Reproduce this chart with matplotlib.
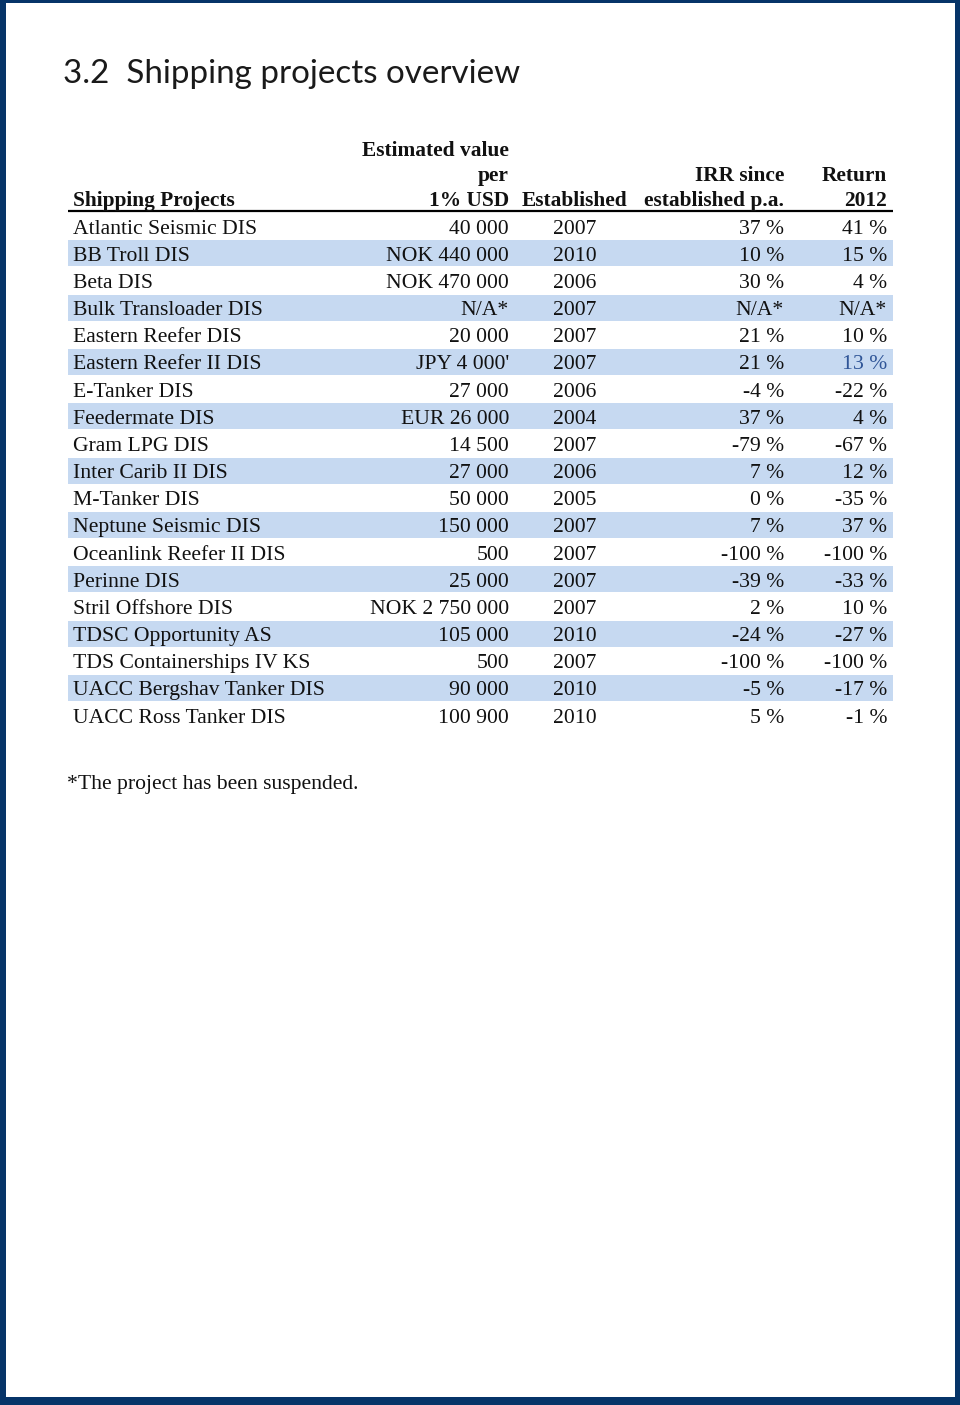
import matplotlib
matplotlib.use("Agg")
import matplotlib.pyplot as plt
from matplotlib.patches import Rectangle

# ---- data ----
projects = ["Atlantic Seismic DIS", "BB Troll DIS", "Beta DIS", "Bulk Transloader DIS",
            "Eastern Reefer DIS", "Eastern Reefer II DIS", "E-Tanker DIS", "Feedermate DIS",
            "Gram LPG DIS", "Inter Carib II DIS", "M-Tanker DIS", "Neptune Seismic DIS",
            "Oceanlink Reefer II DIS", "Perinne DIS", "Stril Offshore DIS",
            "TDSC Opportunity AS", "TDS Containerships IV KS", "UACC Bergshav Tanker DIS",
            "UACC Ross Tanker DIS"]
est_value = ["40 000", "NOK 440 000", "NOK 470 000", "N/A*", "20 000", "JPY 4 000'",
             "27 000", "EUR 26 000", "14 500", "27 000", "50 000", "150 000", "500",
             "25 000", "NOK 2 750 000", "105 000", "500", "90 000", "100 900"]
established = [2007, 2010, 2006, 2007, 2007, 2007, 2006, 2004, 2007, 2006, 2005, 2007,
               2007, 2007, 2007, 2010, 2007, 2010, 2010]
irr = [37, 10, 30, None, 21, 21, -4, 37, -79, 7, 0, 7, -100, -39, 2, -24, -100, -5, 5]
ret2012 = [41, 15, 4, None, 10, 13, -22, 4, -67, 12, -35, 37, -100, -33, 10, -27, -100, -17, -1]

title = "3.2  Shipping projects overview"
footnote = "*The project has been suspended."

W, H = 960, 1405
NAVY = "#063468"
BAND = "#c6d9f1"

fig = plt.figure(figsize=(W / 100, H / 100), dpi=100)
fig.patch.set_facecolor(NAVY)
ax = fig.add_axes([0, 0, 1, 1])
ax.set_xlim(0, W)
ax.set_ylim(H, 0)
ax.axis("off")

ax.add_patch(Rectangle((6, 3), 949, 1394, facecolor="white", edgecolor="none", zorder=0))

ax.text(63, 74, title, fontsize=23.9, family="Lato", color="#1a1a1a",
        va="center", ha="left")

serif = "Liberation Serif"
fs = 15.6
hfs = 15.4
tdy = 3  # text vertical offset

def fmt_pct(v):
    return "N/A*" if v is None else f"{v} %"

# header
hy = [148 + tdy, 173 + tdy, 198 + tdy]
hkw = dict(fontsize=hfs, family=serif, fontweight="bold", va="center", color="#111")
ax.text(73, hy[2], "Shipping Projects", ha="left", **hkw)
ax.text(509, hy[0], "Estimated value", ha="right", **hkw)
ax.text(509, hy[1], "per", ha="right", **hkw)
ax.text(509, hy[2], "1% USD", ha="right", **hkw)
ax.text(575, hy[2], "Established", ha="center", **hkw)
ax.text(784, hy[1], "IRR since", ha="right", **hkw)
ax.text(784, hy[2], "established p.a.", ha="right", **hkw)
ax.text(887, hy[1], "Return", ha="right", **hkw)
ax.text(887, hy[2], "2012", ha="right", **hkw)
ax.plot([68, 893], [210.5, 210.5], color="black", lw=1.6, solid_capstyle="butt")

y0, dy = 226, 27.17
bkw = dict(fontsize=fs, family=serif, va="center", color="#111")
for i, name in enumerate(projects):
    y = y0 + i * dy
    if i % 2 == 1:
        ax.add_patch(Rectangle((68, y - 13), 825, 26, facecolor=BAND, edgecolor="none", zorder=0.5))
    ty = y + tdy
    ax.text(73, ty, name, ha="left", **bkw)
    ax.text(509, ty, est_value[i], ha="right", **bkw)
    ax.text(575, ty, str(established[i]), ha="center", **bkw)
    ax.text(784, ty, fmt_pct(irr[i]), ha="right", **bkw)
    rc = "#2f5597" if name == "Eastern Reefer II DIS" else "#111"
    ax.text(887, ty, fmt_pct(ret2012[i]), ha="right", **{**bkw, "color": rc})

ax.text(67, 782 + tdy, footnote, ha="left", **bkw)

fig.savefig("out.png", dpi=100, facecolor=fig.get_facecolor())
